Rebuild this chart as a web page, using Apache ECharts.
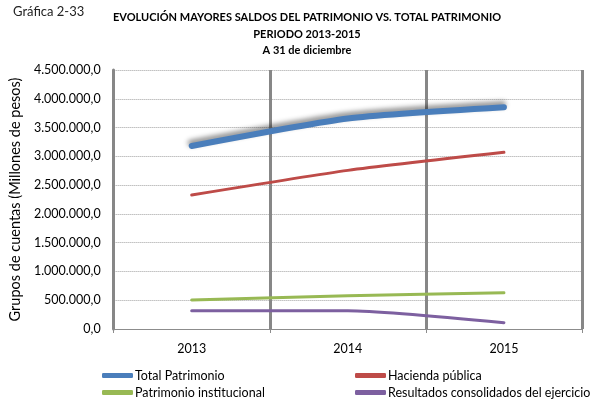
<!DOCTYPE html>
<html>
<head>
<meta charset="utf-8">
<script src="https://cdn.jsdelivr.net/npm/echarts@6/dist/echarts.min.js"></script>
<style>
  html, body { margin: 0; padding: 0; background: #fff; }
</style>
</head>
<body>
<div id="main" style="width: 595px;height:402px;"></div>
<script>
// datos (millones de pesos)
var years = ['2013', '2014', '2015'];
var totalPatrimonio = [3180000, 3657000, 3852000];
var haciendaPublica = [2328000, 2756000, 3070000];
var patrimonioInstitucional = [504000, 577000, 631000];
var resultadosEjercicio = [318000, 318000, 110000];

var fuente = 'Lato';

function formatoMiles(v) {
  // 4500000 -> 4.500.000,0
  var s = String(Math.round(v));
  s = s.replace(/\B(?=(\d{3})+(?!\d))/g, '.');
  return s + ',0';
}

var myChart = echarts.init(document.getElementById('main'));

var option = {
  backgroundColor: '#fff',
  textStyle: { fontFamily: fuente, color: '#000' },
  title: [
    {
      text: 'Gráfica 2-33',
      left: 8, top: 0,
      textStyle: { fontFamily: fuente, fontSize: 13, fontWeight: 'normal', color: '#222' }
    },
    {
      text: 'EVOLUCIÓN MAYORES SALDOS DEL PATRIMONIO VS. TOTAL PATRIMONIO\nPERIODO 2013-2015\nA 31 de diciembre',
      left: 302, top: 4, textAlign: 'center',
      textStyle: { fontFamily: fuente, fontSize: 11, fontWeight: 'bold', color: '#000', lineHeight: 16.7 }
    }
  ],
  legend: [
    {
      left: 97, top: 364, height: 40, orient: 'vertical', itemGap: 4,
      itemWidth: 31, itemHeight: 5, icon: 'roundRect',
      textStyle: { fontFamily: fuente, fontSize: 12.5, color: '#000', padding: [0, 0, 0, -3] },
      data: ['Total Patrimonio', 'Patrimonio institucional']
    },
    {
      left: 350, top: 364, height: 40, orient: 'vertical', itemGap: 4,
      itemWidth: 31, itemHeight: 5, icon: 'roundRect',
      textStyle: { fontFamily: fuente, fontSize: 12.5, color: '#000', padding: [0, 0, 0, -3] },
      data: ['Hacienda pública', 'Resultados consolidados del ejercicio']
    }
  ],
  grid: { left: 113, right: 13, top: 70, bottom: 73 },
  xAxis: {
    type: 'category',
    data: years,
    boundaryGap: true,
    axisLine: { lineStyle: { color: '#8c8c8c', width: 1 } },
    axisTick: { show: true, length: 4, lineStyle: { color: '#8c8c8c' } },
    axisLabel: { fontFamily: fuente, fontSize: 12.5, color: '#000', margin: 13 },
    splitLine: { show: true, lineStyle: { color: '#878787', width: 3 } }
  },
  yAxis: {
    type: 'value',
    min: 0, max: 4500000, interval: 500000,
    name: 'Grupos de cuentas (Millones de pesos)',
    nameLocation: 'middle',
    nameGap: 87,
    nameTextStyle: { fontFamily: fuente, fontSize: 14.5, color: '#000' },
    axisLine: { show: true, lineStyle: { color: '#878787', width: 3 } },
    axisTick: { show: false },
    axisLabel: { fontFamily: fuente, fontSize: 12.5, color: '#000', margin: 13, formatter: formatoMiles },
    splitLine: { show: true, lineStyle: { color: '#a0a0a0', width: 1, type: 'dotted' } }
  },
  series: [
    {
      name: 'Total Patrimonio', type: 'line', data: totalPatrimonio,
      symbol: 'none', smooth: 0.2, z: 5,
      itemStyle: { color: '#4a7ebb' },
      lineStyle: {
        color: '#4a7ebb', width: 6, cap: 'round',
        shadowColor: 'rgba(0,0,0,0.45)', shadowBlur: 5, shadowOffsetX: -1, shadowOffsetY: -3
      }
    },
    {
      name: 'Hacienda pública', type: 'line', data: haciendaPublica,
      symbol: 'none', smooth: 0.2,
      itemStyle: { color: '#be4b48' },
      lineStyle: { color: '#be4b48', width: 3, cap: 'round' }
    },
    {
      name: 'Patrimonio institucional', type: 'line', data: patrimonioInstitucional,
      symbol: 'none', smooth: 0.2,
      itemStyle: { color: '#98b954' },
      lineStyle: { color: '#98b954', width: 3, cap: 'round' }
    },
    {
      name: 'Resultados consolidados del ejercicio', type: 'line', data: resultadosEjercicio,
      symbol: 'none', smooth: 0.2,
      itemStyle: { color: '#7d60a0' },
      lineStyle: { color: '#7d60a0', width: 3, cap: 'round' }
    }
  ]
};

myChart.setOption(option);
</script>
</body>
</html>
